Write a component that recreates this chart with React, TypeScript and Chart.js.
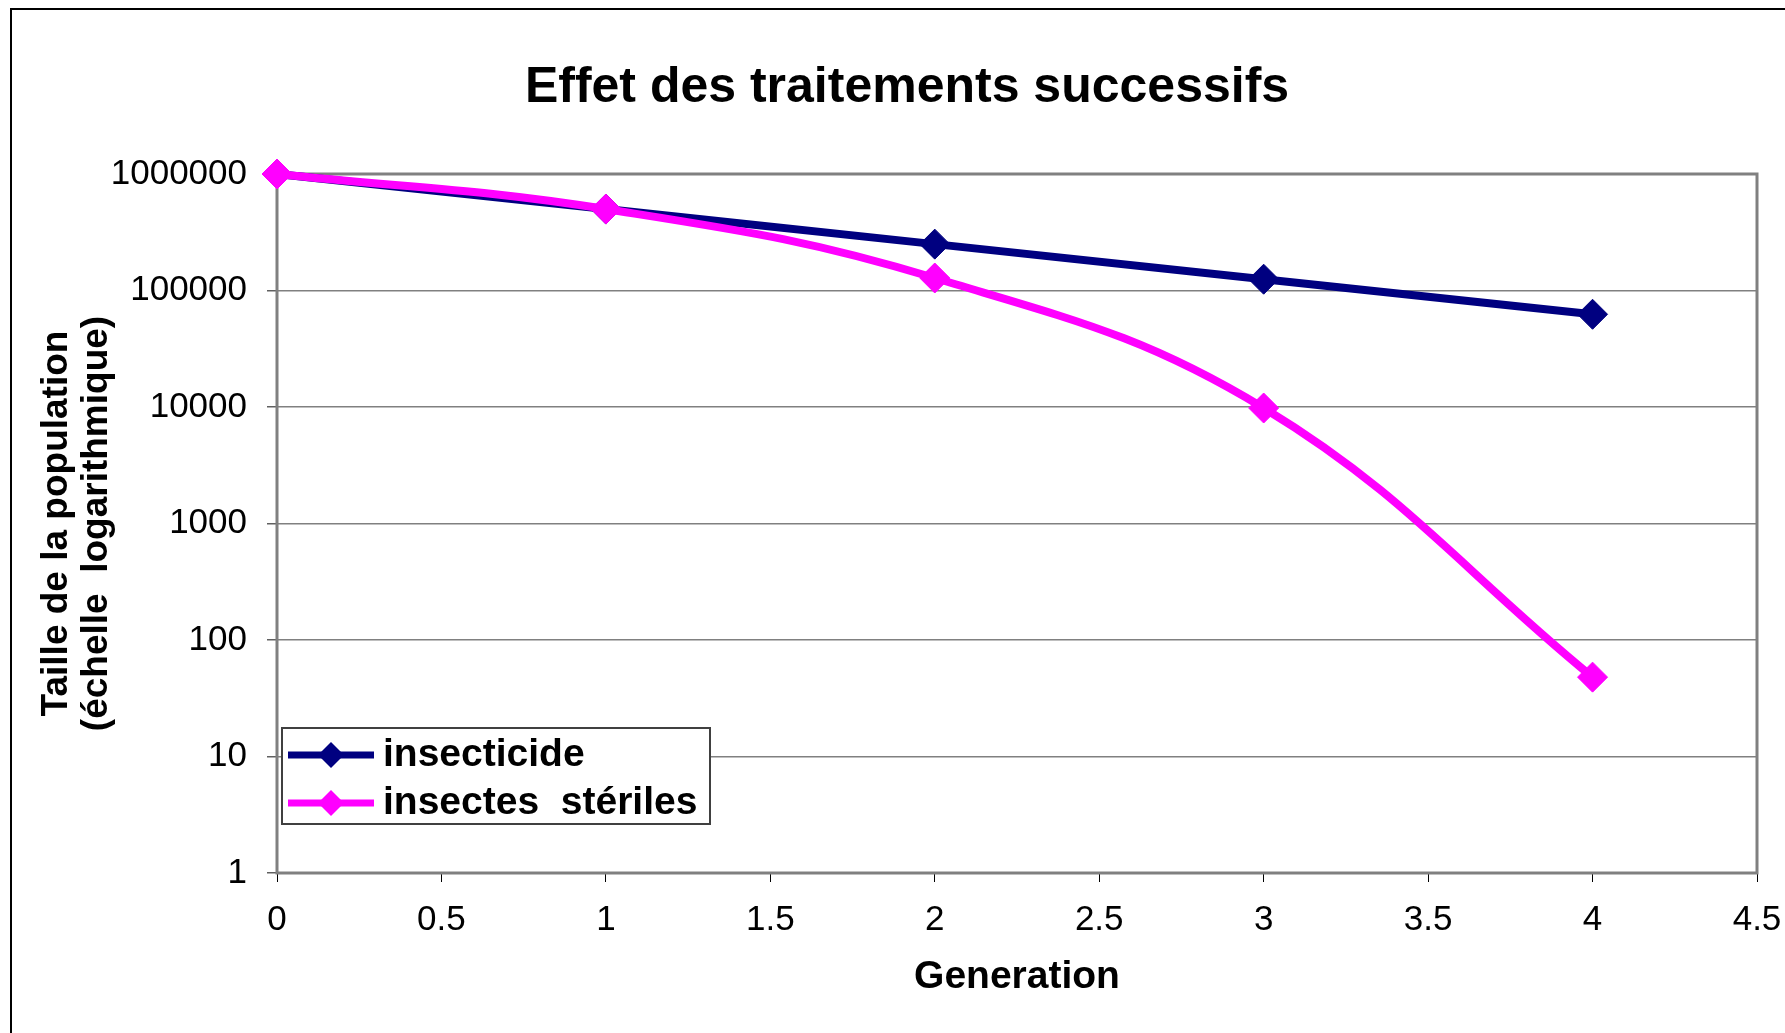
import React, { useEffect, useRef } from "react";
import { Chart, registerables } from "chart.js";

Chart.register(...registerables);

// ---- data ----
const generations = [0, 1, 2, 3, 4];
const insecticide = [1000000, 500000, 250000, 125000, 62500];
const steriles = [1000000, 500000, 128000, 9800, 48];
const yTicks = [1, 10, 100, 1000, 10000, 100000, 1000000];
const xMin = 0;
const xMax = 4.5;
const xStep = 0.5;
const seriesNames = ["insecticide", "insectes  stériles"];
const seriesColors = ["#000080", "#FF00FF"];
const chartTitle = "Effet des traitements successifs";
const xTitle = "Generation";
const yTitle = ["Taille de la population", "(échelle  logarithmique)"];

const FONT = "'Liberation Sans', Arial, Helvetica, sans-serif";

const W = 1785;
const H = 1033;

const backgroundPlugin = {
  id: "bgFrame",
  beforeDraw(chart: any) {
    const ctx = chart.ctx;
    ctx.save();
    ctx.fillStyle = "#ffffff";
    ctx.fillRect(0, 0, chart.width, chart.height);
    ctx.strokeStyle = "#000000";
    ctx.lineWidth = 2;
    ctx.strokeRect(11, 9, chart.width + 100, chart.height + 100);
    ctx.restore();
  },
};

const plotFramePlugin = {
  id: "plotFrame",
  beforeDatasetsDraw(chart: any) {
    const { left, top, right, bottom } = chart.chartArea;
    const ctx = chart.ctx;
    ctx.save();
    ctx.strokeStyle = "#808080";
    ctx.lineWidth = 3;
    ctx.strokeRect(left, top, right - left, bottom - top);
    ctx.restore();
  },
};

function diamond(ctx: CanvasRenderingContext2D, x: number, y: number, r: number) {
  ctx.beginPath();
  ctx.moveTo(x, y - r);
  ctx.lineTo(x + r, y);
  ctx.lineTo(x, y + r);
  ctx.lineTo(x - r, y);
  ctx.closePath();
  ctx.fill();
}

const legendPlugin = {
  id: "innerLegend",
  afterDraw(chart: any) {
    const { left, bottom } = chart.chartArea;
    const ctx = chart.ctx;
    const bx = left + 5;
    const by = bottom - 145;
    const bw = 428;
    const bh = 96;
    ctx.save();
    ctx.fillStyle = "#ffffff";
    ctx.fillRect(bx, by, bw, bh);
    ctx.strokeStyle = "#404040";
    ctx.lineWidth = 2;
    ctx.strokeRect(bx, by, bw, bh);
    const rows = [bottom - 118, bottom - 70];
    seriesNames.forEach((name, i) => {
      const y = rows[i];
      ctx.strokeStyle = seriesColors[i];
      ctx.fillStyle = seriesColors[i];
      ctx.lineWidth = 7;
      ctx.beginPath();
      ctx.moveTo(left + 11, y);
      ctx.lineTo(left + 97, y);
      ctx.stroke();
      diamond(ctx, left + 54, y, 13);
      ctx.fillStyle = "#000000";
      ctx.font = `bold 39px ${FONT}`;
      ctx.textBaseline = "middle";
      ctx.textAlign = "left";
      ctx.fillText(name, left + 106, y);
    });
    ctx.restore();
  },
};

export default function App() {
  const ref = useRef<HTMLCanvasElement | null>(null);

  useEffect(() => {
    if (!ref.current) return;
    const chart = new Chart(ref.current, {
      type: "line",
      data: {
        datasets: [
          {
            label: seriesNames[0],
            data: generations.map((g, i) => ({ x: g, y: insecticide[i] })),
            borderColor: seriesColors[0],
            backgroundColor: seriesColors[0],
            borderWidth: 8,
            pointStyle: "rectRot",
            pointRadius: 15,
            pointHoverRadius: 15,
            pointBorderWidth: 1,
            pointBackgroundColor: seriesColors[0],
            pointBorderColor: seriesColors[0],
            tension: 0,
            fill: false,
            clip: false,
            order: 1,
          },
          {
            label: seriesNames[1],
            data: generations.map((g, i) => ({ x: g, y: steriles[i] })),
            borderColor: seriesColors[1],
            backgroundColor: seriesColors[1],
            borderWidth: 8,
            pointStyle: "rectRot",
            pointRadius: 15,
            pointHoverRadius: 15,
            pointBorderWidth: 1,
            pointBackgroundColor: seriesColors[1],
            pointBorderColor: seriesColors[1],
            tension: 0.4,
            fill: false,
            clip: false,
            order: 0,
          },
        ],
      },
      options: {
        animation: false,
        responsive: false,
        devicePixelRatio: 1,
        events: [],
        layout: { padding: { left: 57, right: 28, top: 0, bottom: 0 } },
        plugins: {
          legend: { display: false },
          tooltip: { enabled: false },
          title: {
            display: true,
            text: chartTitle,
            color: "#000000",
            font: { family: FONT, size: 50, weight: "bold", lineHeight: 1.2 },
            padding: { top: 58, bottom: 56 },
          },
        },
        scales: {
          x: {
            type: "linear",
            min: xMin,
            max: xMax,
            ticks: {
              stepSize: xStep,
              color: "#000000",
              font: { family: FONT, size: 35 },
              padding: 17,
              maxRotation: 0,
              autoSkip: false,
              callback: (v: any) => String(v),
            },
            grid: {
              drawOnChartArea: false,
              drawTicks: true,
              tickLength: 9,
              tickColor: "#000000",
              tickWidth: 1,
            },
            border: { display: false },
            title: {
              display: true,
              text: xTitle,
              color: "#000000",
              font: { family: FONT, size: 39, weight: "bold", lineHeight: 1.2 },
              padding: { top: 0, bottom: 32 },
            },
            afterFit: (scale: any) => {
              scale.height = 160;
              scale.paddingLeft = 0;
              scale.paddingRight = 0;
            },
          },
          y: {
            type: "logarithmic",
            min: yTicks[0],
            max: yTicks[yTicks.length - 1],
            afterBuildTicks: (scale: any) => {
              scale.ticks = yTicks.map((v) => ({ value: v }));
            },
            ticks: {
              color: "#000000",
              font: { family: FONT, size: 35 },
              padding: 20,
              autoSkip: false,
              callback: (v: any) => String(v),
            },
            grid: {
              color: "#808080",
              lineWidth: 1.5,
              drawTicks: true,
              tickLength: 10,
              tickColor: "#606060",
              tickWidth: 1.5,
            },
            border: { display: false },
            title: {
              display: true,
              text: yTitle,
              color: "#000000",
              font: { family: FONT, size: 37, weight: "bold", lineHeight: 40 / 37 },
              padding: { top: -20, bottom: 0 },
            },
            afterFit: (scale: any) => {
              scale.width = 220;
            },
          },
        },
      } as any,
      plugins: [backgroundPlugin, plotFramePlugin, legendPlugin],
    });
    return () => chart.destroy();
  }, []);

  return (
    <div
      style={{
        position: "fixed",
        left: 0,
        top: 0,
        width: W,
        height: H,
        overflow: "hidden",
        background: "#ffffff",
      }}
    >
      <canvas ref={ref} width={W} height={H} style={{ display: "block", width: W, height: H }} />
    </div>
  );
}
